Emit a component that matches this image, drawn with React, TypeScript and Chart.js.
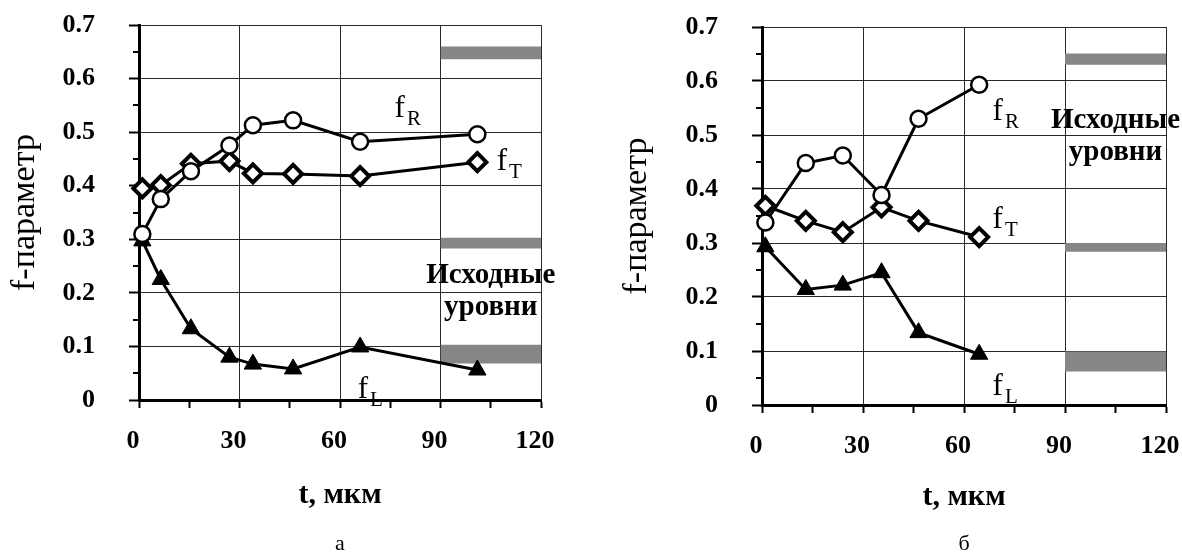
import React, { useEffect, useRef } from 'react';
import { Chart, registerables } from 'chart.js';

Chart.register(...registerables);

const FONT = "'Liberation Serif', 'Times New Roman', serif";
const GRID = '#2a2a2a';
const BAND = '#868686';

// Axis ticks
const xMajor = [0, 30, 60, 90, 120];
const xMinor = [15, 45, 75, 105];
const yMajor = [0, 0.1, 0.2, 0.3, 0.4, 0.5, 0.6, 0.7];
const yMinor = [0.05, 0.15, 0.25, 0.35, 0.45, 0.55, 0.65];

// Panel а
const depthA = [1, 6.5, 15.5, 27, 34, 46, 66, 101];
const fRA = [0.31, 0.375, 0.427, 0.475, 0.513, 0.522, 0.482, 0.496];
const fTA = [0.395, 0.401, 0.441, 0.446, 0.423, 0.422, 0.418, 0.444];
const fLA = [0.297, 0.225, 0.133, 0.08, 0.067, 0.058, 0.099, 0.056];
const levelLowA = [0.636, 0.283, 0.068];
const levelHighA = [0.66, 0.303, 0.103];

// Panel б
const depthB = [1, 13, 24, 35.5, 46.5, 64.5];
const fRB = [0.338, 0.448, 0.462, 0.389, 0.53, 0.593];
const fTB = [0.369, 0.341, 0.32, 0.366, 0.341, 0.311];
const fLB = [0.293, 0.214, 0.222, 0.245, 0.134, 0.094];
const levelLowB = [0.63, 0.284, 0.062];
const levelHighB = [0.651, 0.3, 0.099];

// Initial-level band extent along t
const levelRange = [90, 120];

const isIn = (arr: number[], v: number) => arr.some((m) => Math.abs(m - v) < 1e-9);

const notesPlugin = {
  id: 'notes',
  afterDatasetsDraw(chart: any, _args: any, opts: any) {
    const { ctx } = chart;
    const xs = chart.scales.x;
    const ys = chart.scales.y;
    ctx.save();
    // short minor ticks on the value axis
    ctx.strokeStyle = '#000';
    ctx.lineWidth = 2;
    const ax = chart.chartArea.left;
    yMinor.forEach((v) => {
      const py = Math.round(ys.getPixelForValue(v));
      ctx.beginPath();
      ctx.moveTo(ax - 6, py);
      ctx.lineTo(ax, py);
      ctx.stroke();
    });
    ctx.fillStyle = '#000';
    ctx.textBaseline = 'alphabetic';
    (opts.symbols || []).forEach((s: any) => {
      const px = xs.getPixelForValue(s.x);
      const py = ys.getPixelForValue(s.y);
      ctx.font = `31px ${FONT}`;
      ctx.textAlign = 'left';
      ctx.fillText(s.main, px, py);
      const w = ctx.measureText(s.main).width;
      ctx.font = `21px ${FONT}`;
      ctx.fillText(s.sub, px + w + 2, py + 8);
    });
    (opts.texts || []).forEach((t: any) => {
      ctx.font = `bold 29px ${FONT}`;
      ctx.textAlign = 'center';
      ctx.fillText(t.text, xs.getPixelForValue(t.x), ys.getPixelForValue(t.y));
    });
    if (opts.caption) {
      const ca = chart.chartArea;
      ctx.font = `22px ${FONT}`;
      ctx.textAlign = 'center';
      ctx.fillText(opts.caption, (ca.left + ca.right) / 2, chart.height - 8);
    }
    ctx.restore();
  },
};

type PanelCfg = {
  depth: number[];
  fR: number[];
  fT: number[];
  fL: number[];
  low: number[];
  high: number[];
  yAxisWidth: number;
  xAxisHeight: number;
  yTitlePad: number;
  padding: { left: number; right: number; top: number; bottom: number };
  symbols: any[];
  texts: any[];
  caption: string;
};

function buildConfig(c: PanelCfg): any {
  const series = (ys: number[]) => c.depth.map((x, i) => ({ x, y: ys[i] }));
  const datasets: any[] = [
    {
      label: 'fR',
      data: series(c.fR),
      borderColor: '#000',
      borderWidth: 3,
      pointStyle: 'circle',
      pointRadius: 8,
      pointBorderWidth: 2.5,
      pointBackgroundColor: '#fff',
      pointBorderColor: '#000',
      clip: false,
    },
    {
      label: 'fT',
      data: series(c.fT),
      borderColor: '#000',
      borderWidth: 3,
      pointStyle: 'rectRot',
      pointRadius: 9,
      pointBorderWidth: 4,
      pointBackgroundColor: '#fff',
      pointBorderColor: '#000',
      clip: false,
    },
    {
      label: 'fL',
      data: series(c.fL),
      borderColor: '#000',
      borderWidth: 3,
      pointStyle: 'triangle',
      pointRadius: 10,
      pointBorderWidth: 1,
      pointBackgroundColor: '#000',
      pointBorderColor: '#000',
      clip: false,
    },
  ];
  c.low.forEach((lo, i) => {
    datasets.push({
      label: 'low' + i,
      data: levelRange.map((x) => ({ x, y: lo })),
      borderWidth: 0,
      pointRadius: 0,
      fill: false,
    });
    datasets.push({
      label: 'high' + i,
      data: levelRange.map((x) => ({ x, y: c.high[i] })),
      borderWidth: 0,
      pointRadius: 0,
      backgroundColor: BAND,
      fill: '-1',
    });
  });

  return {
    type: 'line',
    data: { datasets },
    plugins: [notesPlugin],
    options: {
      animation: false,
      responsive: false,
      devicePixelRatio: 1,
      layout: { padding: c.padding },
      plugins: {
        legend: { display: false },
        tooltip: { enabled: false },
        notes: { symbols: c.symbols, texts: c.texts, caption: c.caption },
      },
      scales: {
        x: {
          type: 'linear',
          min: 0,
          max: 120,
          afterBuildTicks: (s: any) => {
            s.ticks = [...xMajor, ...xMinor].sort((a, b) => a - b).map((v) => ({ value: v }));
          },
          afterFit: (s: any) => {
            s.height = c.xAxisHeight;
            s.paddingLeft = 0;
            s.paddingRight = 0;
          },
          ticks: {
            autoSkip: false,
            maxRotation: 0,
            padding: 18,
            labelOffset: -6,
            color: '#000',
            font: { family: FONT, size: 26, weight: 'bold' },
            callback: (v: number) => (isIn(xMajor, v) ? String(v) : ''),
          },
          grid: {
            color: (ctx: any) => (ctx.tick && isIn(xMajor, ctx.tick.value) ? GRID : 'rgba(0,0,0,0)'),
            lineWidth: 1,
            tickColor: '#000',
            tickLength: 8,
            tickWidth: 2,
          },
          border: { display: true, color: '#000', width: 3 },
          title: {
            display: true,
            text: 't, мкм',
            color: '#000',
            font: { family: FONT, size: 30, weight: 'bold' },
            padding: 0,
          },
        },
        y: {
          type: 'linear',
          min: 0,
          max: 0.7,
          afterBuildTicks: (s: any) => {
            s.ticks = yMajor.map((v) => ({ value: v }));
          },
          afterFit: (s: any) => {
            s.width = c.yAxisWidth;
            s.paddingTop = 0;
            s.paddingBottom = 0;
          },
          ticks: {
            autoSkip: false,
            padding: 34,
            color: '#000',
            font: { family: FONT, size: 26, weight: 'bold' },
            callback: (v: number) => (v === 0 ? '0' : v.toFixed(1)),
          },
          grid: {
            color: GRID,
            lineWidth: 1,
            tickColor: '#000',
            tickLength: 10,
            tickWidth: 2,
          },
          border: { display: true, color: '#000', width: 3 },
          title: {
            display: true,
            text: 'f-параметр',
            color: '#000',
            font: { family: FONT, size: 34 },
            padding: { top: c.yTitlePad, bottom: 0 },
          },
        },
      },
    },
  };
}

function Panel({ left, cfg }: { left: number; cfg: PanelCfg }) {
  const ref = useRef<HTMLCanvasElement>(null);
  useEffect(() => {
    const chart = new Chart(ref.current as HTMLCanvasElement, buildConfig(cfg));
    return () => chart.destroy();
  }, []);
  return (
    <div style={{ position: 'absolute', left, top: 0, width: 591, height: 558 }}>
      <canvas ref={ref} width={591} height={558} style={{ display: 'block' }} />
    </div>
  );
}

const panelA: PanelCfg = {
  depth: depthA,
  fR: fRA,
  fT: fTA,
  fL: fLA,
  low: levelLowA,
  high: levelHighA,
  yAxisWidth: 139,
  xAxisHeight: 113,
  yTitlePad: 5,
  padding: { left: 0, right: 50, top: 25, bottom: 45 },
  symbols: [
    { main: 'f', sub: 'R', x: 76.3, y: 0.528 },
    { main: 'f', sub: 'T', x: 106.8, y: 0.429 },
    { main: 'f', sub: 'L', x: 65.3, y: 0.004 },
  ],
  texts: [
    { text: 'Исходные', x: 105, y: 0.218 },
    { text: 'уровни', x: 105, y: 0.159 },
  ],
  caption: 'а',
};

const panelB: PanelCfg = {
  depth: depthB,
  fR: fRB,
  fT: fTB,
  fL: fLB,
  low: levelLowB,
  high: levelHighB,
  yAxisWidth: 171,
  xAxisHeight: 110,
  yTitlePad: 26,
  padding: { left: 0, right: 16, top: 27, bottom: 43 },
  symbols: [
    { main: 'f', sub: 'R', x: 68.5, y: 0.528 },
    { main: 'f', sub: 'T', x: 68.5, y: 0.328 },
    { main: 'f', sub: 'L', x: 68.5, y: 0.0185 },
  ],
  texts: [
    { text: 'Исходные', x: 105, y: 0.513 },
    { text: 'уровни', x: 105, y: 0.454 },
  ],
  caption: 'б',
};

export default function App() {
  return (
    <div
      style={{
        position: 'absolute',
        left: 0,
        top: 0,
        width: 1182,
        height: 558,
        background: '#fff',
        overflow: 'hidden',
      }}
    >
      <Panel left={0} cfg={panelA} />
      <Panel left={591} cfg={panelB} />
    </div>
  );
}
